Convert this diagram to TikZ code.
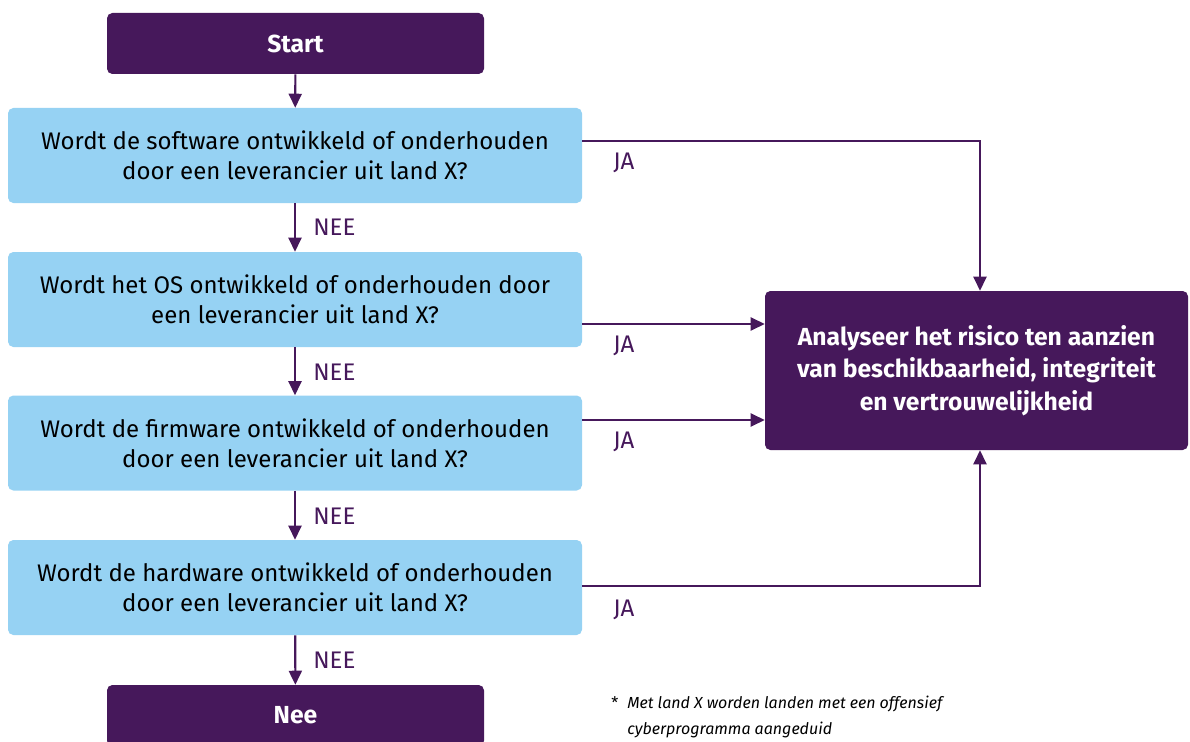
\documentclass[tikz,border=0pt]{standalone}
\usepackage{fontspec}
\setmainfont{Fira Sans}
\usetikzlibrary{arrows.meta,positioning}
\definecolor{rijkpaars}{HTML}{46185B}
\definecolor{lichtblauw}{HTML}{96D2F3}

\begin{document}
\begin{tikzpicture}[x=0.75pt,y=-0.75pt,
question/.style={fill=lichtblauw,rounded corners=4pt,minimum width=430.5pt,minimum height=71.25pt,
    inner sep=0pt,align=center,font=\fontsize{18}{22.5}\selectfont},
term/.style={fill=rijkpaars,text=white,rounded corners=4pt,minimum width=282.75pt,minimum height=45.75pt,
    inner sep=0pt,font=\fontsize{18.5}{22.5}\selectfont\bfseries},
result/.style={fill=rijkpaars,text=white,rounded corners=4pt,minimum width=317.25pt,minimum height=119.25pt,
    inner sep=0pt,align=center,font=\fontsize{18.5}{24.5}\selectfont\bfseries},
flow/.style={draw=rijkpaars,line width=1.6pt,-{Triangle[length=10.5pt,width=9.75pt]}},
lbl/.style={text=rijkpaars,anchor=west,inner sep=0pt,font=\fontsize{18}{20}\selectfont}]
\useasboundingbox (0,0) rectangle (1190,742);

\node (start) [term] at (295.5,43.5) {Start};
\node (q1) [question] at (295,155.5) {Wordt de software ontwikkeld of onderhouden\\door een leverancier uit land X?};
\node (q2) [question] at (295,299.5) {Wordt het OS ontwikkeld of onderhouden door\\een leverancier uit land X?};
\node (q3) [question] at (295,443) {Wordt de firmware ontwikkeld of onderhouden\\door een leverancier uit land X?};
\node (q4) [question] at (295,587.5) {Wordt de hardware ontwikkeld of onderhouden\\door een leverancier uit land X?};
\node (nee) [term,text height=12pt] at (295.5,715.5) {Nee};
\node (ana) [result] at (976.5,370.5) {Analyseer het risico ten aanzien\\van beschikbaarheid, integriteit\\en vertrouwelijkheid};

% nee-pijlen
\draw[flow] (start) -- (q1);
\draw[flow] (q1) -- (q2);
\draw[flow] (q2) -- (q3);
\draw[flow] (q3) -- (q4);
\draw[flow] (q4) -- (nee);
\node [lbl] at (313,227) {NEE};
\node [lbl] at (313,372) {NEE};
\node [lbl] at (313,516) {NEE};
\node [lbl] at (313,660) {NEE};

% ja-pijlen
\coordinate (j1) at (980,141);
\coordinate (j2) at (980,324);
\coordinate (j3) at (980,420);
\coordinate (j4) at (980,586);
\draw[flow] (q1.east |- j1) -- (j1) -- (ana.north -| j1);
\draw[flow] (q2.east |- j2) -- (ana.west |- j2);
\draw[flow] (q3.east |- j3) -- (ana.west |- j3);
\draw[flow] (q4.east |- j4) -- (j4) -- (ana.south -| j4);
\node [lbl] at (613,163) {JA};
\node [lbl] at (613,346) {JA};
\node [lbl] at (613,442) {JA};
\node [lbl] at (613,610) {JA};

\node (voetnoot) [anchor=north west,inner sep=0pt,align=left,font=\fontsize{12}{19.5}\selectfont\itshape]
    at (611,696) {\makebox[12pt][l]{\upshape*}Met land X worden landen met een offensief\\\hspace*{12pt}cyberprogramma aangeduid};
\end{tikzpicture}
\end{document}
